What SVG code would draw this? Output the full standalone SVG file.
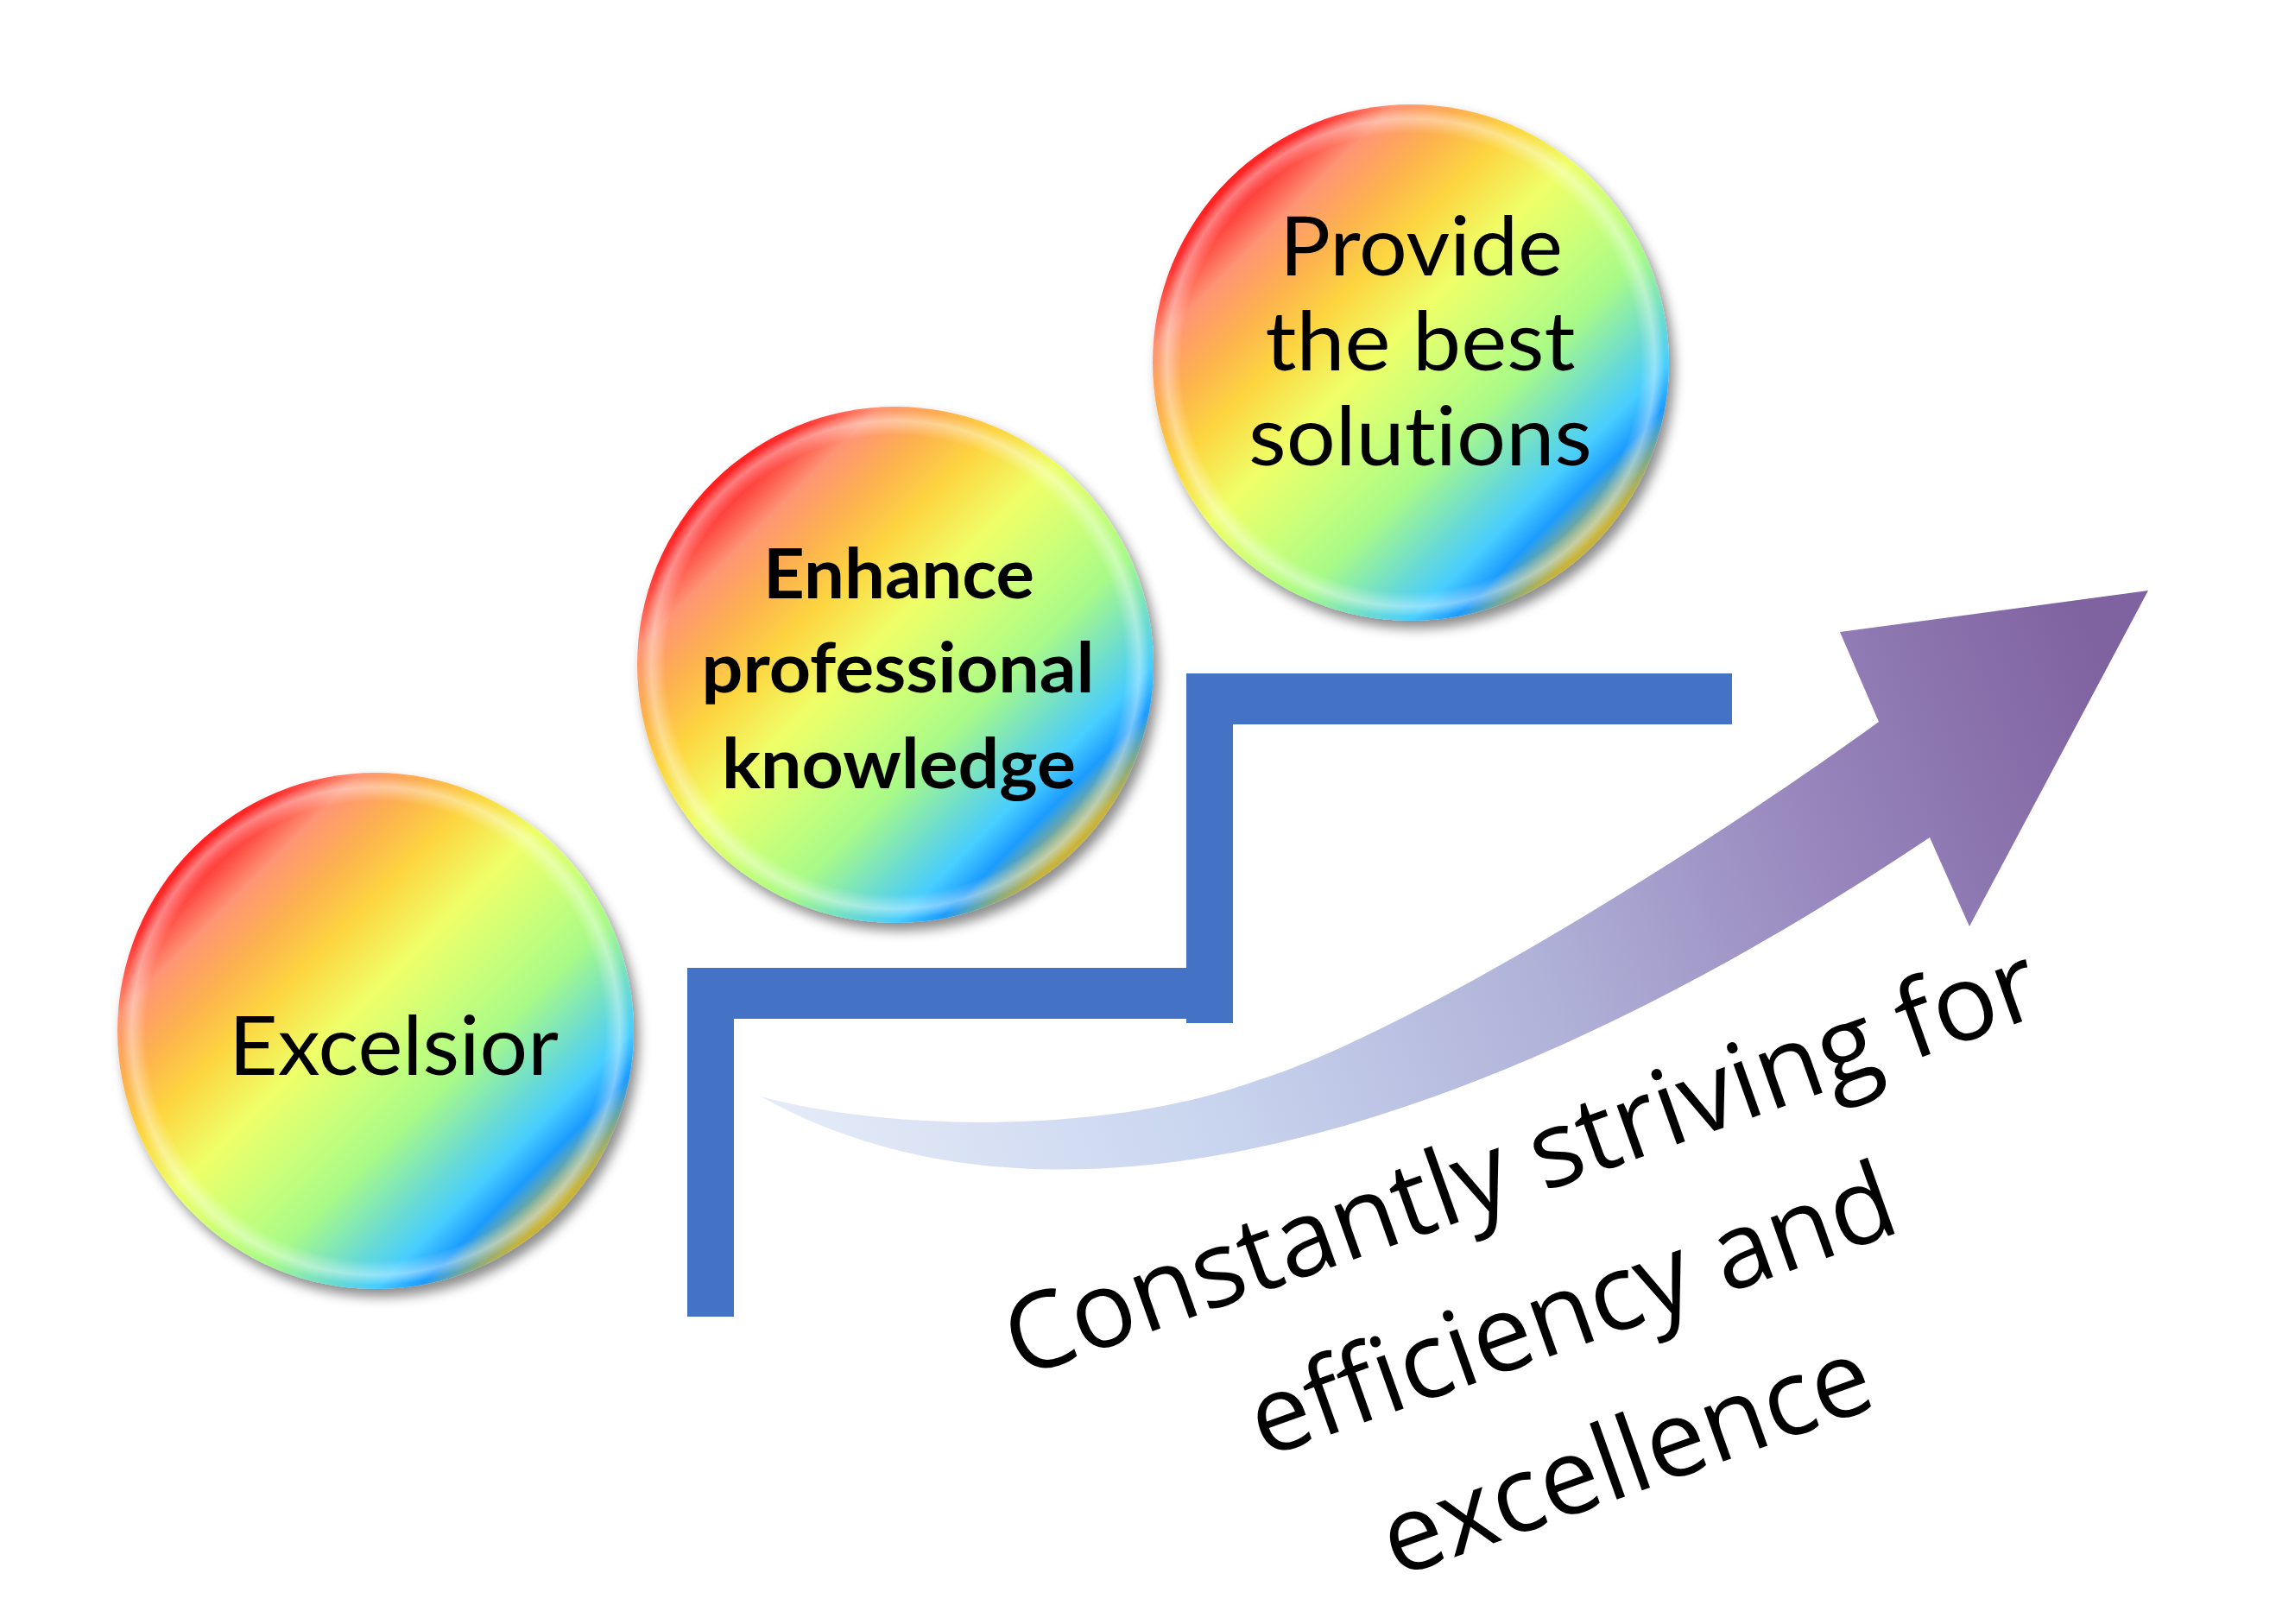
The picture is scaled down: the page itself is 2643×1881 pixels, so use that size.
<svg xmlns="http://www.w3.org/2000/svg" width="2643" height="1881" viewBox="0 0 2643 1881">
  <style>
    text { font-variant-ligatures: none; font-feature-settings: "liga" 0, "clig" 0; }
    .lbl { font-family: Lato, "Open Sans", "Liberation Sans", sans-serif; fill: #000; text-anchor: middle; }
    .reg { font-weight: 400; font-size: 95px; }
    .bold { font-weight: 700; font-size: 80px; }
    .slogan { font-family: "Open Sans", "Noto Sans", "Liberation Sans", sans-serif; font-weight: 500; font-size: 123px; fill: #000; text-anchor: middle; }
    .ball { fill: url(#rainbow); filter: url(#shadow); }
    .rim { fill: url(#bevel); }
    .step { fill: #4472C4; }
  </style>
  <defs>
    <linearGradient id="rainbow" x1="0" y1="0" x2="1" y2="1">
      <stop offset="0.14" stop-color="#ff1a1a"/>
      <stop offset="0.175" stop-color="#ff3030"/>
      <stop offset="0.235" stop-color="#ff9575"/>
      <stop offset="0.30" stop-color="#fdb050"/>
      <stop offset="0.37" stop-color="#fdd540"/>
      <stop offset="0.46" stop-color="#efff68"/>
      <stop offset="0.54" stop-color="#ccff78"/>
      <stop offset="0.62" stop-color="#a8fa88"/>
      <stop offset="0.70" stop-color="#6cdcd0"/>
      <stop offset="0.75" stop-color="#48cdff"/>
      <stop offset="0.79" stop-color="#1c9cff"/>
      <stop offset="0.845" stop-color="#c8b43c"/>
    </linearGradient>
    <radialGradient id="bevel" cx="0.5" cy="0.5" r="0.5">
      <stop offset="0" stop-color="#ffffff" stop-opacity="0"/>
      <stop offset="0.89" stop-color="#ffffff" stop-opacity="0"/>
      <stop offset="0.945" stop-color="#ffffff" stop-opacity="0.4"/>
      <stop offset="0.985" stop-color="#ffffff" stop-opacity="0"/>
      <stop offset="1" stop-color="#ffffff" stop-opacity="0"/>
    </radialGradient>
    <linearGradient id="arrowFill" gradientUnits="userSpaceOnUse" x1="881" y1="1320" x2="2420" y2="720">
      <stop offset="0" stop-color="#e6ecf8"/>
      <stop offset="0.3" stop-color="#c9d5ef"/>
      <stop offset="0.55" stop-color="#b0b2d8"/>
      <stop offset="0.78" stop-color="#9684bb"/>
      <stop offset="1" stop-color="#7f62a0"/>
    </linearGradient>
    <filter id="shadow" x="-20%" y="-20%" width="140%" height="140%">
      <feDropShadow dx="6" dy="9" stdDeviation="7" flood-color="#000000" flood-opacity="0.45"/>
    </filter>
  </defs>

  <rect x="0" y="0" width="2643" height="1881" fill="#ffffff"/>

  <g id="connectors">
    <path id="stairs" class="step" d="M796,1525 L796,1121 L1374,1121 L1374,780 L2006,780 L2006,839 L1428,839 L1428,1185 L1374,1185 L1374,1180 L850,1180 L850,1525 Z"/>
    <path id="growth-arrow" fill="url(#arrowFill)" d="M881,1270 C1050,1315 1300,1310 1460,1250 C1620,1200 1950,1000 2176,836 L2131,732 L2488,684 L2281,1073 L2235,970 C1735,1305 1231,1465 881,1270 Z"/>
  </g>

  <g id="node-excelsior">
    <circle class="ball" cx="435" cy="1194" r="299"/>
    <circle class="rim" cx="435" cy="1194" r="299"/>
    <text class="lbl reg" x="456" y="1245" textLength="382" lengthAdjust="spacingAndGlyphs">Excelsior</text>
  </g>

  <g id="node-enhance">
    <circle class="ball" cx="1037" cy="770" r="299"/>
    <circle class="rim" cx="1037" cy="770" r="299"/>
    <text class="lbl bold" x="1041" y="693" textLength="314" lengthAdjust="spacingAndGlyphs">Enhance</text>
    <text class="lbl bold" x="1040" y="802" textLength="455" lengthAdjust="spacingAndGlyphs">professional</text>
    <text class="lbl bold" x="1041" y="913" textLength="410" lengthAdjust="spacingAndGlyphs">knowledge</text>
  </g>

  <g id="node-provide">
    <circle class="ball" cx="1634" cy="420" r="299"/>
    <circle class="rim" cx="1634" cy="420" r="299"/>
    <text class="lbl reg" x="1646" y="319" textLength="328" lengthAdjust="spacingAndGlyphs">Provide</text>
    <text class="lbl reg" x="1645" y="429" textLength="359" lengthAdjust="spacingAndGlyphs">the best</text>
    <text class="lbl reg" x="1645" y="539" textLength="398" lengthAdjust="spacingAndGlyphs">solutions</text>
  </g>

  <g id="slogan" transform="translate(1205,1588) rotate(-19.6)">
    <text class="slogan" x="606" y="0" textLength="1262" lengthAdjust="spacingAndGlyphs">Constantly striving for</text>
    <text class="slogan" x="603" y="182" textLength="786" lengthAdjust="spacingAndGlyphs">efficiency and</text>
    <text class="slogan" x="605" y="364" textLength="594" lengthAdjust="spacingAndGlyphs">excellence</text>
  </g>
</svg>
